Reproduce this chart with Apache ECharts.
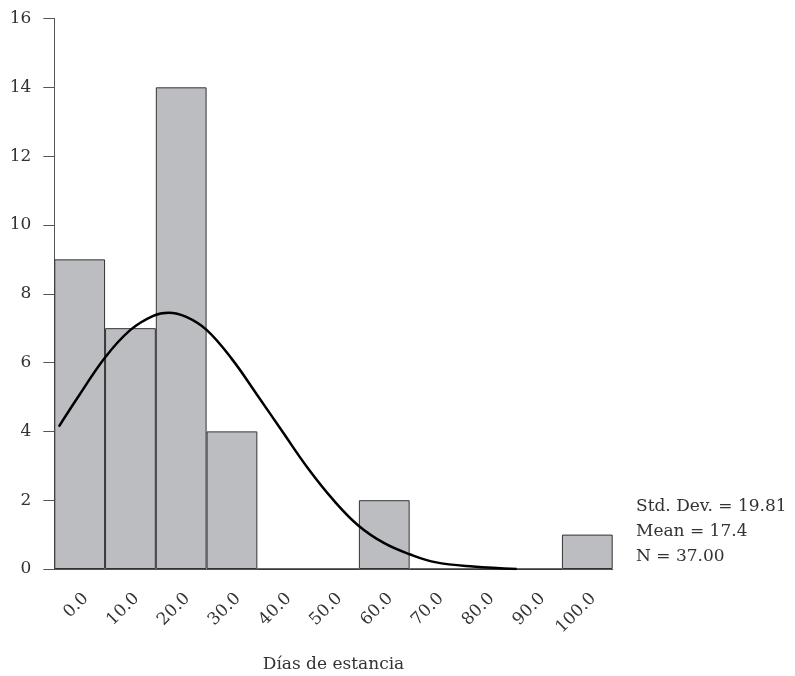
<!DOCTYPE html>
<html>
<head>
<meta charset="utf-8">
<script src="https://cdn.jsdelivr.net/npm/echarts@6/dist/echarts.min.js"></script>
<style>
html,body{margin:0;padding:0;background:#fff;}
#c{width:795px;height:676px;}
</style>
</head>
<body>
<div id="c"></div>
<script>
const categories = ['0.0','10.0','20.0','30.0','40.0','50.0','60.0','70.0','80.0','90.0','100.0'];
const counts = [9, 7, 14, 4, 0, 0, 2, 0, 0, 0, 1];
// normal curve: [días, frequency]
const curvePoints = [
  [-4.1, 4.14], [0, 5.07], [5, 6.15], [10, 6.95], [14.5, 7.36], [17.5, 7.45],
  [21, 7.33], [25, 6.95], [30, 6.1], [35, 5.05], [40, 3.98], [45, 2.92],
  [50, 2.0], [55, 1.25], [60, 0.75], [65, 0.43], [70, 0.2], [77.5, 0.07], [86.1, 0.0]
];
const yTicks = {min: 0, max: 16, interval: 2};
const statsLines = ['Std. Dev. = 19.81', 'Mean = 17.4', 'N = 37.00'];
const xTitle = 'Días de estancia';

const FONT = '"DejaVu Serif", "Liberation Serif", serif';
const chart = echarts.init(document.getElementById('c'), null, {renderer: 'canvas'});
chart.setOption({
  animation: false,
  backgroundColor: '#fff',
  grid: {left: 54.3, right: 182.3, top: 18.5, bottom: 107, containLabel: false, outerBoundsMode: 'none'},
  xAxis: [{
    type: 'category',
    data: categories,
    boundaryGap: true,
    axisLine: {show: true, onZero: false, lineStyle: {color: '#555', width: 1}},
    axisTick: {show: false},
    axisLabel: {rotate: 45, margin: 21, fontSize: 17, color: '#333', fontFamily: FONT, verticalAlign: 'top'},
    name: xTitle,
    nameLocation: 'middle',
    nameGap: 87,
    nameTextStyle: {fontSize: 17, color: '#333', fontFamily: FONT},
    splitLine: {show: false}
  }, {
    type: 'value',
    min: -5, max: 105,
    show: false,
    splitLine: {show: false}
  }],
  yAxis: {
    type: 'value',
    min: yTicks.min, max: yTicks.max, interval: yTicks.interval,
    axisLine: {show: true, onZero: false, lineStyle: {color: '#555', width: 1}},
    axisTick: {show: true, length: 11, lineStyle: {color: '#555'}},
    axisLabel: {margin: 23, fontSize: 17, color: '#333', fontFamily: FONT},
    splitLine: {show: false}
  },
  series: [{
    type: 'bar',
    data: counts,
    barCategoryGap: '0%',
    itemStyle: {color: '#bcbdc1', borderColor: '#333', borderWidth: 1},
    xAxisIndex: 0
  }, {
    type: 'line',
    data: curvePoints,
    xAxisIndex: 1,
    showSymbol: false,
    smooth: 0.4,
    lineStyle: {color: '#000', width: 2.5},
    z: 5
  }],
  graphic: statsLines.map((t, i) => ({
    type: 'text',
    left: 636,
    top: 498 + i * 25,
    style: {text: t, fontSize: 17, fill: '#333', fontFamily: FONT}
  }))
});
</script>
</body>
</html>
